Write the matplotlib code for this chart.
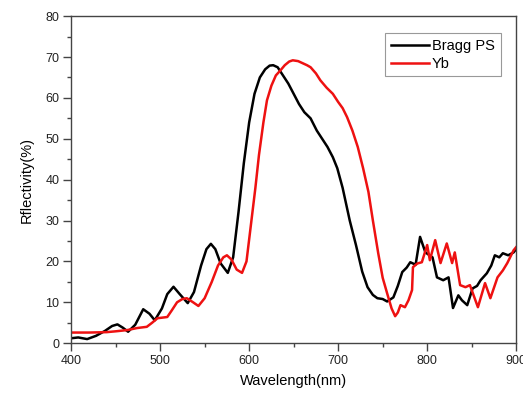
import numpy as np
import matplotlib.pyplot as plt
from matplotlib.ticker import MultipleLocator

plt.rcParams['font.family'] = ['Liberation Sans', 'DejaVu Sans']

# Bragg PS spectrum (wavelength nm, reflectivity %)
bragg_x = [400, 408, 418, 428, 438, 446, 452, 458, 464, 472, 481, 488, 494, 502, 508,
           515, 522, 531, 538, 546, 552, 557, 562, 568, 576, 582, 588, 594, 600, 606,
           612, 618, 623, 627, 632, 638, 644, 650, 656, 662, 669, 676, 682, 688, 694,
           699, 705, 713, 720, 727, 733, 739, 744, 750, 755, 762, 767, 772, 777, 781,
           787, 792, 798, 806, 811, 818, 824, 829, 835, 839, 845, 851, 856, 860, 867,
           872, 876, 881, 885, 891, 897, 900]
bragg_y = [1.2, 1.4, 1.0, 1.8, 3.0, 4.2, 4.6, 3.8, 2.8, 4.5, 8.3, 7.2, 5.6, 8.5, 12.0,
           13.8, 12.0, 9.8, 12.5, 19.0, 23.0, 24.3, 23.0, 19.5, 17.2, 21.0, 32.0, 44.0, 54.0, 61.0,
           65.0, 67.0, 67.9, 68.0, 67.5, 65.5, 63.5, 61.0, 58.5, 56.5, 55.0, 52.0, 50.0, 48.0, 45.5,
           42.8, 38.0, 30.0, 24.0, 17.5, 13.7, 11.8, 11.0, 10.8, 10.2, 11.2, 14.0, 17.4, 18.5, 19.8,
           19.2, 26.0, 22.2, 21.0, 16.1, 15.4, 16.1, 8.6, 11.7, 10.5, 9.3, 13.4, 14.0, 15.4, 17.1,
           19.0, 21.5, 21.0, 22.0, 21.5, 22.2, 23.0]

# Yb spectrum
yb_x = [400, 420, 440, 450, 463, 474, 485, 491, 497, 508, 513, 519, 525, 530, 537,
        543, 550, 558, 565, 571, 575, 580, 586, 592, 597, 602, 607, 611, 616, 620,
        625, 630, 635, 640, 645, 649, 655, 660, 665, 669, 675, 680, 687, 694, 700,
        705, 710, 716, 722, 728, 734, 739, 745, 750, 755, 760, 764, 767, 770, 775,
        779, 783, 784, 789, 794, 800, 803, 809, 815, 822, 828, 831, 837, 843, 848,
        857, 865, 871, 879, 885, 890, 897, 900]
yb_y = [2.6, 2.6, 2.7, 2.9, 3.2, 3.7, 4.0, 5.0, 6.1, 6.4, 8.0, 10.0, 10.8, 11.0, 10.0,
        9.1, 11.0, 15.0, 19.0, 21.0, 21.5, 20.5, 18.0, 17.2, 20.0, 29.0, 38.0, 46.0, 54.0, 59.4,
        63.0, 65.5, 66.7, 68.0, 68.9, 69.2, 69.0, 68.5, 68.0, 67.5, 66.0, 64.3, 62.5, 61.0, 59.0,
        57.5, 55.3, 52.0, 48.0, 42.8, 37.0, 30.0, 22.0, 16.0, 12.2, 8.5, 6.6, 7.5, 9.3, 8.8,
        10.5, 13.0, 18.6, 19.5, 19.8, 24.0, 20.3, 25.2, 19.6, 24.4, 19.6, 22.2, 14.2, 13.7, 14.2,
        8.8, 14.7, 11.0, 16.1, 17.8, 19.6, 22.7, 23.5]

fig = plt.figure(figsize=(5.23, 3.94), dpi=100)
ax = fig.add_axes([0.136, 0.129, 0.851, 0.830])

ax.plot(bragg_x, bragg_y, color='black', lw=1.8, label='Bragg PS')
ax.plot(yb_x, yb_y, color='#ee1111', lw=1.8, label='Yb')

ax.set_xlim(400, 900)
ax.set_ylim(0, 80)
ax.xaxis.set_major_locator(MultipleLocator(100))
ax.xaxis.set_minor_locator(MultipleLocator(50))
ax.yaxis.set_major_locator(MultipleLocator(10))
ax.yaxis.set_minor_locator(MultipleLocator(5))
ax.tick_params(which='both', direction='out', top=False, right=False,
               labelsize=9, color='#444444', labelcolor='#222222', width=1.0)
ax.tick_params(which='major', length=5.5, pad=3)
ax.tick_params(which='minor', length=3)
for s in ax.spines.values():
    s.set_color('#444444')
    s.set_linewidth(1.0)

ax.set_xlabel('Wavelength(nm)', fontsize=10.5, labelpad=5)
ax.set_ylabel('Rflectivity(%)', fontsize=10.5, labelpad=8)

leg = ax.legend(loc='upper right', bbox_to_anchor=(0.965, 0.948), fontsize=10.5,
                fancybox=False, edgecolor='#999999', framealpha=1,
                handlelength=2.6, handletextpad=0.2, borderpad=0.4,
                labelspacing=0.25, borderaxespad=0)
leg.get_frame().set_linewidth(0.8)

fig.savefig('out.png', dpi=100)
